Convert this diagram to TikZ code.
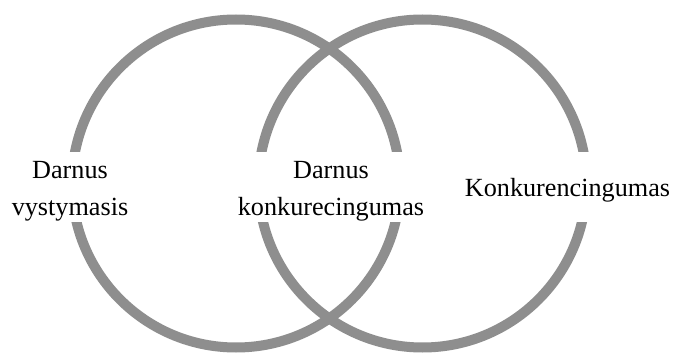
\documentclass[tikz,border=0pt]{standalone}
\usepackage{fontspec}
\setmainfont{Liberation Serif}
\definecolor{ringgray}{RGB}{142,142,142}
\begin{document}
\begin{tikzpicture}[x=1pt,y=-1pt,
  ring/.style={draw=ringgray,line width=10pt},
  gap/.style={fill=white,draw=none},
  lbl/.style={font=\fontsize{26.2}{37}\selectfont,align=center,inner sep=0pt,anchor=base}]
\useasboundingbox[fill=white] (0,0) rectangle (673,356);
\draw[ring] (236,183.5) circle[radius=164];
\draw[ring] (422.5,183.5) circle[radius=164];
\fill[gap] (58,152) rectangle (92,222);
\fill[gap] (383,152) rectangle (412,222);
\fill[gap] (246,152) rectangle (276,222);
\fill[gap] (570,152) rectangle (602,222);
\node[lbl] (a) at (70,215) {Darnus\\vystymasis};
\node[lbl] (b) at (331,215) {Darnus\\konkurecingumas};
\node[lbl] (c) at (567.5,196) {Konkurencingumas};
\end{tikzpicture}
\end{document}
